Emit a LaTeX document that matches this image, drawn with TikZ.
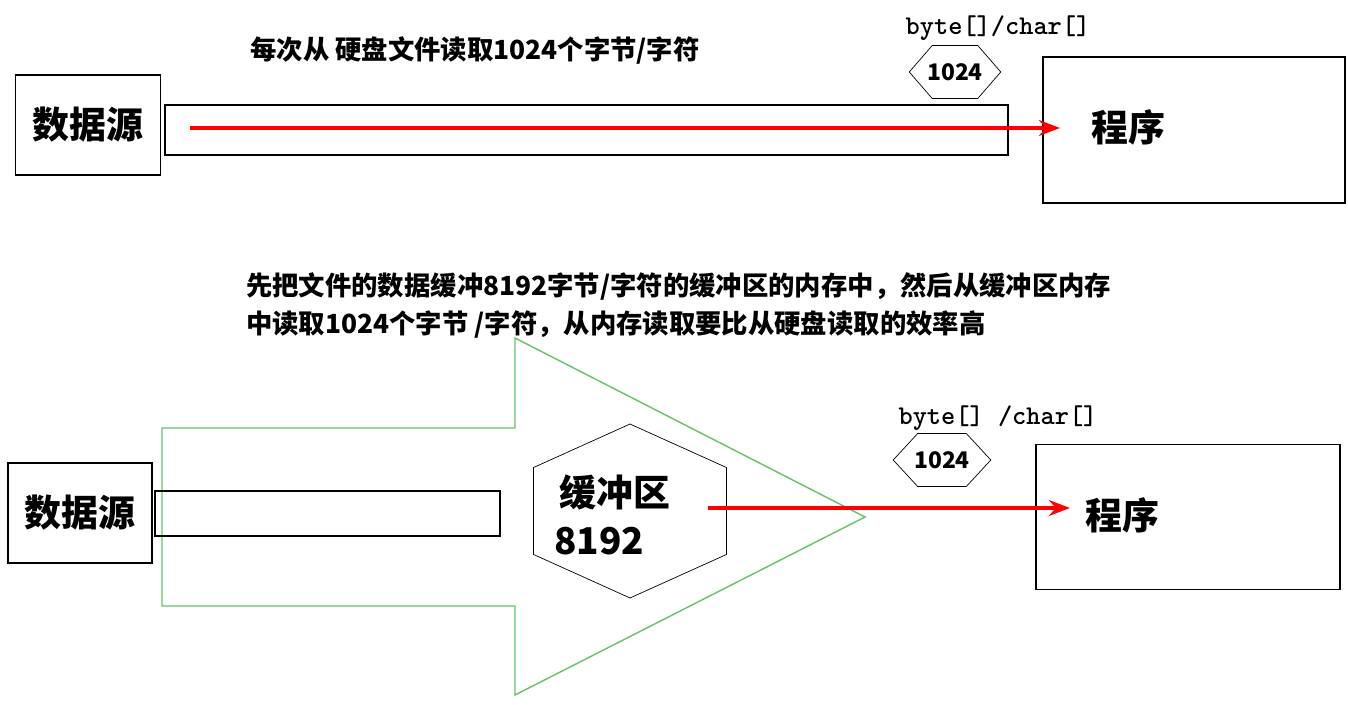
\documentclass[tikz,border=0pt]{standalone}
\usepackage{fontspec}
\setmainfont{Noto Sans CJK SC}
\usetikzlibrary{arrows.meta,shapes.geometric}
\begin{document}
\begin{tikzpicture}[x=0.02cm, y=-0.02cm, >=Stealth,
	srcbox/.style={draw=black, line width=0.8pt},
	bigtext/.style={font=\fontsize{21}{24}\selectfont\bfseries},
	smalltext/.style={font=\fontsize{15}{22}\selectfont\bfseries, align=left},
	numtext/.style={font=\fontsize{13}{15}\selectfont\bfseries},
	typetext/.style={font=\ttfamily\fontsize{15.4}{17}\selectfont\bfseries},
	flowLine/.style={->, draw=red, line width=2pt}
	]
	\useasboundingbox (0,0) rectangle (1348,705);
	% upper row
	\node[srcbox, bigtext, minimum width=2.9cm, minimum height=2cm] (src1) at (88,125) {数据源};
	\draw[srcbox] (165,105) rectangle (1008,155);
	\node[srcbox, minimum width=6.04cm, minimum height=2.92cm] (prog1) at (1194,130) {};
	\node[bigtext] (progt1) at (1128,127) {程序};
	\node[draw=black, regular polygon, regular polygon sides=6, minimum size=1.22cm, xscale=1.5, inner sep=0pt] (buf1) at (955,72) {};
	\node[numtext] at (955,72) {1024};
	\node[typetext] (type1) at (998,28) {byte[]/char[]};
	\node[smalltext] (note1) at (475,50) {每次从 硬盘文件读取1024个字节/字符};
	\coordinate (s1) at (190,128);
	\draw[flowLine] (s1) -- (1060,128);
	% lower row
	\node[smalltext, anchor=north west] (note2) at (240,266) {先把文件的数据缓冲8192字节/字符的缓冲区的内存中，然后从缓冲区内存\\中读取1024个字节 /字符，从内存读取要比从硬盘读取的效率高};
	\draw[green!60!black!60, line width=0.8pt] (162,428) -- (515,428) -- (515,338) -- (865,517) -- (515,695) -- (515,606) -- (162,606) -- cycle;
	\node[srcbox, bigtext, minimum width=2.88cm, minimum height=2cm] (src2) at (80,513) {数据源};
	\draw[srcbox] (155,491) rectangle (500,536);
	\node[draw=black, regular polygon, regular polygon sides=6, minimum size=3.48cm, shape border rotate=30, xscale=1.28, inner sep=0pt] (buf2) at (630,511) {};
	\node[bigtext, anchor=west] at (553,492) {缓冲区};
	\node[bigtext, anchor=west] at (548,541) {8192};
	\node[draw=black, regular polygon, regular polygon sides=6, minimum size=1.22cm, xscale=1.6, inner sep=0pt] (buf3) at (942,460) {};
	\node[numtext] at (942,460) {1024};
	\node[typetext] (type2) at (998,418) {byte[] /char[]};
	\node[srcbox, minimum width=6.08cm, minimum height=2.9cm] (prog2) at (1188,517) {};
	\node[bigtext] (progt2) at (1122,515) {程序};
	\coordinate (s2) at (708,508);
	\draw[flowLine] (s2) -- (1070,508);
\end{tikzpicture}
\end{document}
